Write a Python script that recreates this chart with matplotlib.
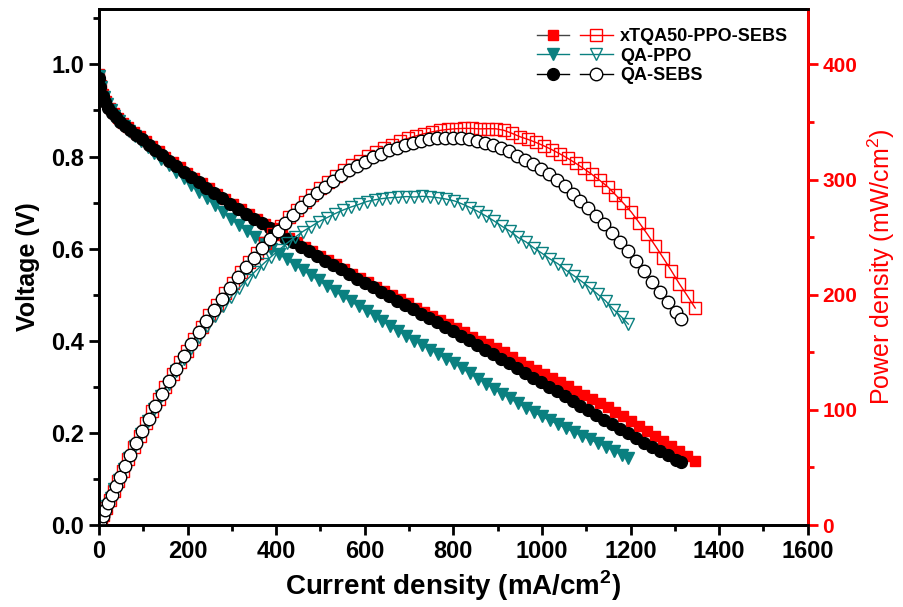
import numpy as np
import matplotlib
matplotlib.use('Agg')
import matplotlib.pyplot as plt
from matplotlib.legend_handler import HandlerTuple
from matplotlib.ticker import MultipleLocator

# ---- data ----
# xTQA50-PPO-SEBS
j_x = [0, 4, 9, 16, 24, 33, 43, 54, 66, 79, 92, 106, 120, 135, 150, 166, 182, 198,
       215, 232, 249, 266, 284, 302, 320, 338, 356, 374, 392, 410, 428, 446, 464, 482,
       500, 518, 536, 554, 572, 590, 608, 626, 644, 662, 680, 698, 716, 734, 752, 770,
       788, 806, 824, 842, 860, 878, 896, 914, 932, 950, 968, 986, 1004, 1022, 1040,
       1058, 1076, 1094, 1112, 1130, 1148, 1166, 1184, 1202, 1220, 1238, 1256, 1274,
       1292, 1310, 1328, 1346]
v_x = [0.980, 0.955, 0.936, 0.920, 0.906, 0.894, 0.883, 0.873, 0.863, 0.853, 0.844,
       0.834, 0.823, 0.812, 0.800, 0.788, 0.777, 0.765, 0.753, 0.742, 0.731, 0.719,
       0.708, 0.697, 0.686, 0.675, 0.664, 0.654, 0.644, 0.634, 0.624, 0.614, 0.604,
       0.594, 0.585, 0.575, 0.566, 0.556, 0.546, 0.536, 0.527, 0.517, 0.508, 0.499,
       0.490, 0.481, 0.472, 0.463, 0.454, 0.445, 0.436, 0.427, 0.418, 0.409, 0.400,
       0.392, 0.384, 0.375, 0.365, 0.355, 0.346, 0.337, 0.328, 0.319, 0.310, 0.301,
       0.292, 0.283, 0.274, 0.265, 0.256, 0.246, 0.236, 0.226, 0.215, 0.204, 0.193,
       0.182, 0.171, 0.160, 0.150, 0.140]

# QA-PPO
j_ppo = [0, 5, 11, 18, 26, 35, 45, 56, 68, 81, 95, 110, 125, 141, 157, 174, 191, 208,
         226, 244, 262, 280, 298, 316, 334, 352, 370, 388, 406, 424, 442, 460, 478, 496,
         514, 532, 550, 568, 586, 604, 622, 640, 658, 676, 694, 712, 730, 748, 766, 784,
         802, 820, 838, 856, 874, 892, 910, 928, 946, 964, 982, 1000, 1018, 1036, 1054,
         1072, 1090, 1108, 1126, 1144, 1162, 1180, 1195]
v_ppo = [0.975, 0.950, 0.930, 0.913, 0.900, 0.888, 0.877, 0.866, 0.856, 0.845, 0.833,
         0.820, 0.808, 0.795, 0.781, 0.767, 0.753, 0.738, 0.723, 0.709, 0.694, 0.680,
         0.665, 0.651, 0.638, 0.625, 0.612, 0.600, 0.588, 0.577, 0.565, 0.554, 0.542,
         0.531, 0.519, 0.508, 0.497, 0.486, 0.475, 0.465, 0.454, 0.443, 0.432, 0.421,
         0.411, 0.400, 0.391, 0.381, 0.371, 0.361, 0.351, 0.340, 0.329, 0.318, 0.307,
         0.296, 0.285, 0.275, 0.264, 0.255, 0.245, 0.236, 0.227, 0.219, 0.210, 0.202,
         0.194, 0.186, 0.178, 0.170, 0.161, 0.153, 0.146]

# QA-SEBS
j_sebs = [0, 3, 8, 14, 21, 29, 38, 48, 59, 71, 84, 98, 112, 127, 142, 158, 174, 191,
          208, 225, 242, 259, 277, 295, 313, 331, 349, 367, 385, 403, 421, 439, 457, 475,
          493, 511, 529, 547, 565, 583, 601, 619, 637, 655, 673, 691, 709, 727, 745, 763,
          781, 799, 817, 835, 853, 871, 889, 907, 925, 943, 961, 979, 997, 1015, 1033,
          1051, 1069, 1087, 1105, 1123, 1141, 1159, 1177, 1195, 1213, 1231, 1249, 1267,
          1285, 1303, 1315]
v_sebs = [0.970, 0.950, 0.932, 0.918, 0.906, 0.895, 0.885, 0.875, 0.866, 0.857, 0.847,
          0.837, 0.826, 0.815, 0.803, 0.791, 0.779, 0.767, 0.755, 0.744, 0.732, 0.721,
          0.710, 0.698, 0.687, 0.676, 0.665, 0.655, 0.645, 0.634, 0.624, 0.614, 0.604,
          0.594, 0.584, 0.574, 0.564, 0.555, 0.545, 0.535, 0.525, 0.516, 0.506, 0.497,
          0.487, 0.478, 0.468, 0.459, 0.450, 0.440, 0.430, 0.421, 0.411, 0.401, 0.391,
          0.381, 0.371, 0.361, 0.351, 0.340, 0.330, 0.320, 0.310, 0.300, 0.290, 0.280,
          0.269, 0.259, 0.249, 0.239, 0.229, 0.219, 0.209, 0.199, 0.189, 0.179, 0.169,
          0.160, 0.151, 0.142, 0.136]

labels = ['xTQA50-PPO-SEBS', 'QA-PPO', 'QA-SEBS']

# power density = current density x voltage
p_x = np.array(j_x) * np.array(v_x)
p_ppo = np.array(j_ppo) * np.array(v_ppo)
p_sebs = np.array(j_sebs) * np.array(v_sebs)

RED = '#ff0000'
TEAL = '#0a8080'
SANS = ['Liberation Sans', 'DejaVu Sans']

fig = plt.figure(figsize=(9.04, 6.07), dpi=100)
ax = fig.add_axes([0.1095, 0.135, 0.784, 0.850])
ax2 = ax.twinx()

# polarization curves (filled)
lx, = ax.plot(j_x, v_x, color='#444444', lw=1, marker='s', ms=7, mfc=RED, mec=RED)
lp, = ax.plot(j_ppo, v_ppo, color=TEAL, lw=1, marker='v', ms=8, mfc=TEAL, mec=TEAL)
ls, = ax.plot(j_sebs, v_sebs, color='black', lw=1, marker='o', ms=8.5, mfc='black', mec='black')

# power density curves (open)
ox, = ax2.plot(j_x, p_x, color=RED, lw=1, marker='s', ms=8, mfc='none', mec=RED, mew=1)
op, = ax2.plot(j_ppo, p_ppo, color=TEAL, lw=1, marker='v', ms=9, mfc='none', mec=TEAL, mew=1)
os_, = ax2.plot(j_sebs, p_sebs, color='black', lw=1, marker='o', ms=9, mfc='white', mec='black', mew=1)

ax.set_xlim(0, 1600)
ax.set_ylim(0, 1.12)
ax2.set_ylim(0, 448)

ax.xaxis.set_major_locator(MultipleLocator(200))
ax.xaxis.set_minor_locator(MultipleLocator(100))
ax.yaxis.set_major_locator(MultipleLocator(0.2))
ax.yaxis.set_minor_locator(MultipleLocator(0.1))
ax2.yaxis.set_major_locator(MultipleLocator(100))
ax2.yaxis.set_minor_locator(MultipleLocator(50))
ax.yaxis.set_major_formatter(matplotlib.ticker.FormatStrFormatter('%.1f'))

for sp in ax.spines.values():
    sp.set_linewidth(2)
for sp in ax2.spines.values():
    sp.set_linewidth(2)
ax2.spines['right'].set_color(RED)

ax.tick_params(axis='both', which='major', direction='out', length=7, width=2)
ax.tick_params(axis='both', which='minor', direction='out', length=4, width=2)
ax.tick_params(top=False, right=False)
ax2.tick_params(axis='y', which='major', direction='out', length=7, width=2, colors=RED)
ax2.tick_params(axis='y', which='minor', direction='out', length=4, width=2, colors=RED)

for t in ax.get_xticklabels() + ax.get_yticklabels():
    t.set_fontfamily(SANS)
    t.set_fontweight('bold')
    t.set_fontsize(17)
for t in ax2.get_yticklabels():
    t.set_fontfamily(SANS)
    t.set_fontweight('bold')
    t.set_fontsize(15)
    t.set_color(RED)

ax.set_xlabel('Current density (mA/cm$^\\mathregular{2}$)', fontsize=20, fontweight='bold',
              family=SANS, labelpad=4)
ax.set_ylabel('Voltage (V)', fontsize=18, fontweight='bold', family=SANS, labelpad=8)
ax2.set_ylabel('Power density (mW/cm$^\\mathregular{2}$)', fontsize=18, color=RED,
               family=SANS, labelpad=6)

handles = [(lx, ox), (lp, op), (ls, os_)]
leg = ax.legend(handles, labels, handler_map={tuple: HandlerTuple(ndivide=None, pad=0.6)},
                loc='upper right', bbox_to_anchor=(0.995, 0.995), frameon=False,
                handlelength=4.2, prop={'family': SANS, 'weight': 'bold', 'size': 13},
                labelspacing=0.15, handletextpad=0.4)

fig.savefig('out.png', dpi=100)
